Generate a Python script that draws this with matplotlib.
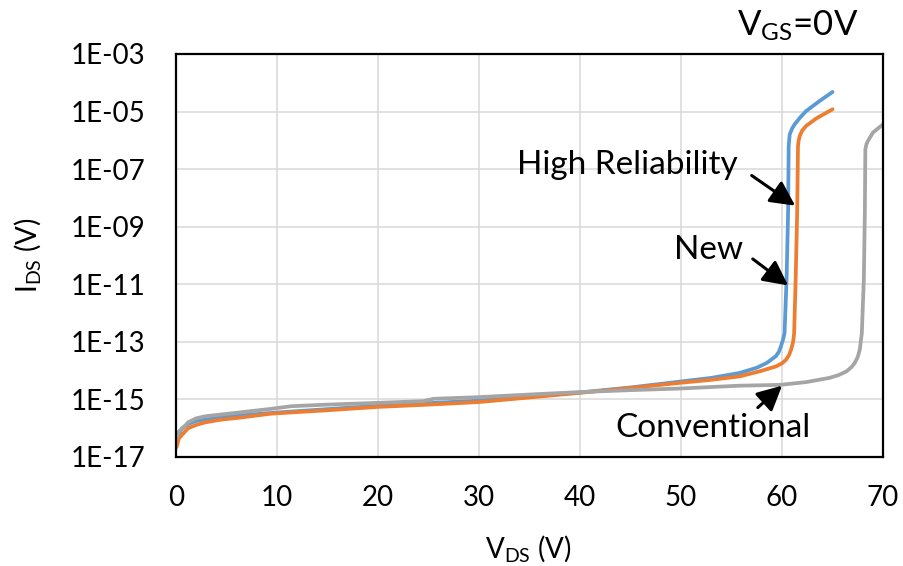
import matplotlib
matplotlib.use("Agg")
import matplotlib.pyplot as plt
from matplotlib.ticker import FixedLocator, FuncFormatter

plt.rcParams['font.family'] = ['Lato', 'DejaVu Sans']
plt.rcParams['mathtext.fontset'] = 'custom'
plt.rcParams['mathtext.rm'] = 'Lato'
plt.rcParams['mathtext.it'] = 'Lato'

# Drain current vs drain voltage at V_GS = 0 V
v_high = [0.05, 0.3, 0.6, 1.2, 2.0, 3.0, 5.0, 7.0, 10, 15, 20, 25, 30, 35, 40, 45, 50, 53,
          55.8, 57.5, 58.5, 59.4, 59.7, 59.9, 60.1, 60.25, 60.45, 60.6, 60.66, 60.76, 61.0,
          61.25, 61.8, 62.4, 63.7, 65.0]
i_high = [2.8e-17, 6.3e-17, 1.0e-16, 1.4e-16, 1.8e-16, 2.0e-16, 2.5e-16, 2.9e-16, 3.5e-16,
          4.6e-16, 6.0e-16, 7.4e-16, 9.1e-16, 1.26e-15, 1.74e-15, 2.6e-15, 4.2e-15, 5.6e-15,
          8.3e-15, 1.26e-14, 1.86e-14, 3.2e-14, 4.6e-14, 7.1e-14, 1.2e-13, 2.0e-13, 1.5e-11,
          3.1e-9, 6.3e-7, 1.6e-6, 2.6e-6, 3.6e-6, 6.3e-6, 1.05e-5, 2.3e-5, 4.8e-5]

v_new = [0.05, 0.3, 0.6, 1.2, 2.0, 2.9, 4.5, 6.2, 9.4, 15, 20, 25, 30, 35, 40, 45, 50, 53,
         55.8, 57.8, 59.4, 60.0, 60.4, 60.7, 60.9, 61.1, 61.2, 61.35, 61.5, 61.58, 61.65, 61.75,
         62.0, 62.4, 63.4, 65.0]
i_new = [2.2e-17, 4.5e-17, 5.9e-17, 1.0e-16, 1.3e-16, 1.6e-16, 2.0e-16, 2.3e-16, 3.2e-16,
         4.2e-16, 5.5e-16, 6.6e-16, 8.1e-16, 1.17e-15, 1.7e-15, 2.5e-15, 3.8e-15, 4.8e-15,
         6.3e-15, 9.5e-15, 1.4e-14, 1.8e-14, 2.4e-14, 3.5e-14, 5.4e-14, 1.0e-13, 2.0e-13,
         1.5e-11, 3.1e-9, 6.3e-7, 1.0e-6, 1.4e-6, 2.2e-6, 3.2e-6, 5.8e-6, 1.2e-5]

v_conv = [0.05, 0.3, 0.6, 1.2, 2.0, 2.9, 4.5, 6.2, 9.4, 11.4, 15, 20, 24.5, 25.5, 30, 35, 40,
          45, 50, 55.8, 59.8, 62.4, 64.7, 65.6, 66.4, 66.9, 67.2, 67.5, 67.7, 67.9, 68.1, 68.2,
          68.25, 68.35, 68.5, 69.0, 70.0]
i_conv = [4.5e-17, 7.9e-17, 9.3e-17, 1.6e-16, 2.2e-16, 2.6e-16, 3.0e-16, 3.5e-16, 4.7e-16,
          5.8e-16, 6.6e-16, 7.6e-16, 8.7e-16, 1.05e-15, 1.2e-15, 1.48e-15, 1.8e-15, 2.1e-15,
          2.4e-15, 3.0e-15, 3.2e-15, 4.0e-15, 5.6e-15, 7.0e-15, 9.5e-15, 1.35e-14, 1.86e-14,
          3.0e-14, 5.4e-14, 2.0e-13, 1.5e-11, 3.1e-9, 4.9e-7, 7.2e-7, 9.5e-7, 1.86e-6, 3.6e-6]

x_ticks = [0, 10, 20, 30, 40, 50, 60, 70]
y_ticks = [1e-17, 1e-15, 1e-13, 1e-11, 1e-9, 1e-7, 1e-5, 1e-3]
y_tick_labels = ['1E-17', '1E-15', '1E-13', '1E-11', '1E-09', '1E-07', '1E-05', '1E-03']

fig = plt.figure(figsize=(9.04, 5.66), dpi=100)
ax = fig.add_axes([0.1947, 0.1926, 0.9768 - 0.1947, 0.9046 - 0.1926])

line_kw = dict(lw=2.7, solid_capstyle='round', solid_joinstyle='round', zorder=3)
ax.plot(v_high, i_high, color='#5B9BD5', **line_kw)
ax.plot(v_new, i_new, color='#ED7D31', **line_kw)
ax.plot(v_conv, i_conv, color='#A5A5A5', **line_kw)

ax.set_yscale('log')
ax.set_xlim(0, 70)
ax.set_ylim(1e-17, 1e-3)
ax.xaxis.set_major_locator(FixedLocator(x_ticks))
ax.yaxis.set_major_locator(FixedLocator(y_ticks))
ax.yaxis.set_minor_locator(FixedLocator([]))
ax.yaxis.set_major_formatter(FuncFormatter(
    lambda v, p: y_tick_labels[y_ticks.index(min(y_ticks, key=lambda t: abs(t / v - 1)))]))
ax.tick_params(axis='both', length=0, labelsize=20)
ax.tick_params(axis='y', pad=22)
ax.tick_params(axis='x', pad=20)
ax.grid(True, color='#D9D9D9', lw=1.1, zorder=0)
for s in ax.spines.values():
    s.set_linewidth(1.6)
    s.set_color('black')
    s.set_zorder(4)

fig.text(0.584, 1 - 548 / 566, r'$\mathregular{V_{DS}}$ (V)', fontsize=20, ha='center', va='center')
fig.text(28 / 904, 1 - 255 / 566, r'$\mathregular{I_{DS}}$ (V)', fontsize=20, ha='center',
         va='center', rotation=90)
fig.text(798 / 904, 1 - 26 / 566, r'$\mathregular{V_{GS}}$=0V', fontsize=25, ha='center', va='center')

ax.text(44.65, 1.35e-7, 'High Reliability', fontsize=24, ha='center', va='center')
ax.text(52.7, 1.6e-10, 'New', fontsize=24, ha='center', va='center')
ax.text(53.2, 1.05e-16, 'Conventional', fontsize=24, ha='center', va='center')

arrow = dict(arrowstyle='-|>,head_length=0.75,head_width=0.38', color='black', lw=2.2,
             shrinkA=0, shrinkB=0, mutation_scale=20)
ax.annotate('', xy=(61.3, 5.4e-9), xytext=(57.0, 6.0e-8), arrowprops=arrow, zorder=5)
ax.annotate('', xy=(60.6, 9.1e-12), xytext=(57.1, 7.6e-11), arrowprops=arrow, zorder=5)
ax.annotate('', xy=(60.0, 3.0e-15), xytext=(57.6, 5.2e-16), arrowprops=arrow, zorder=5)

fig.savefig('out.png', dpi=100)
